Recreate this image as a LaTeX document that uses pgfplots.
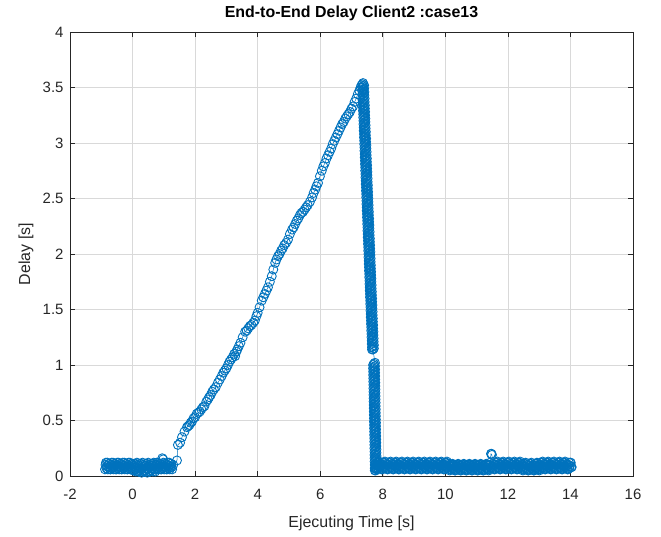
\documentclass[border=0pt]{standalone}
\usepackage{pgfplots}
\pgfplotsset{compat=1.18}
\usepackage{fontspec}
\setmainfont{Liberation Sans}
\definecolor{mblue}{RGB}{0,114,189}
\definecolor{axgray}{RGB}{38,38,38}
\begin{document}
\begin{tikzpicture}
\begin{axis}[name=ax, at={(0,0)}, anchor=south west,
 scale only axis, width=563bp, height=444bp,
 xmin=-2, xmax=16, ymin=0, ymax=4,
 xtick={-2,0,2,4,6,8,10,12,14,16}, ytick={0,0.5,1,1.5,2,2.5,3,3.5,4},
 grid=major, major grid style={color=black!15, line width=0.5pt},
 tick align=inside, axis line style={axgray, line width=0.6pt},
 tick style={axgray, line width=0.6pt}, major tick length=5bp,
 ticklabel style={font=\fontsize{15}{18}\selectfont, text=axgray},
 /pgf/number format/assume math mode=true,
 xticklabel style={yshift=-10bp},
 yticklabel style={xshift=-3bp},
 title={End-to-End Delay Client2 :case13},
 title style={font=\bfseries\fontsize{16}{19}\selectfont, at={(axis description cs:0.5,1)}, anchor=base, yshift=8.7bp},
 xlabel={Ejecuting Time [s]},
 xlabel style={font=\fontsize{16}{19}\selectfont, text=axgray, at={(axis description cs:0.5,0)}, anchor=base, yshift=-51bp},
 ylabel={Delay [s]},
 ylabel style={font=\fontsize{16}{19}\selectfont, text=axgray, at={(axis description cs:-0.07105,0.5)}, anchor=base},
]
\addplot[mblue, line width=0.5pt, mark=o, mark size=4.5bp, mark options={line width=0.9pt, solid}] coordinates {
(-0.88,0.06) (-0.85,0.12) (-0.82,0.09) (-0.79,0.06) (-0.76,0.11) (-0.73,0.08)
(-0.70,0.06) (-0.67,0.12) (-0.64,0.09) (-0.61,0.06) (-0.58,0.11) (-0.55,0.08)
(-0.52,0.06) (-0.49,0.12) (-0.46,0.09) (-0.43,0.06) (-0.40,0.11) (-0.37,0.08)
(-0.34,0.06) (-0.31,0.12) (-0.28,0.09) (-0.25,0.06) (-0.22,0.11) (-0.19,0.08)
(-0.16,0.06) (-0.13,0.12) (-0.10,0.09) (-0.07,0.06) (-0.04,0.11) (-0.01,0.08)
(0.02,0.05) (0.05,0.11) (0.08,0.08) (0.11,0.04) (0.14,0.12) (0.17,0.07)
(0.20,0.04) (0.23,0.11) (0.26,0.07) (0.29,0.03) (0.32,0.12) (0.35,0.08)
(0.38,0.04) (0.41,0.11) (0.44,0.07) (0.47,0.03) (0.50,0.12) (0.53,0.08)
(0.56,0.04) (0.59,0.11) (0.62,0.07) (0.65,0.04) (0.68,0.12) (0.71,0.08)
(0.74,0.06) (0.77,0.12) (0.80,0.09) (0.83,0.06) (0.86,0.11) (0.89,0.08)
(0.92,0.06) (0.95,0.16) (0.98,0.15) (1.01,0.06) (1.04,0.11) (1.07,0.08)
(1.10,0.06) (1.13,0.12) (1.16,0.09) (1.19,0.06) (1.22,0.11) (1.25,0.08)
(1.30,0.10) (1.42,0.14)
(1.45,0.28) (1.52,0.30) (1.58,0.35) (1.66,0.40) (1.74,0.44) (1.78,0.45) (1.82,0.46) (1.86,0.48)
(1.90,0.49) (1.95,0.52) (2.00,0.53) (2.05,0.56) (2.10,0.57) (2.15,0.58) (2.20,0.60) (2.25,0.62)
(2.30,0.63) (2.36,0.67) (2.41,0.69) (2.45,0.71) (2.50,0.73) (2.55,0.76) (2.60,0.78) (2.66,0.80)
(2.73,0.84) (2.79,0.87) (2.85,0.90) (2.90,0.93) (2.95,0.95) (3.00,0.97) (3.05,1.00) (3.10,1.03)
(3.15,1.05) (3.20,1.07) (3.25,1.10) (3.28,1.08) (3.32,1.12) (3.35,1.14) (3.40,1.17) (3.45,1.20)
(3.52,1.25) (3.60,1.30) (3.65,1.31) (3.70,1.33) (3.75,1.35) (3.80,1.36) (3.86,1.38) (3.91,1.40)
(3.96,1.44) (4.00,1.47) (4.06,1.52) (4.13,1.58) (4.18,1.61) (4.23,1.64) (4.28,1.67) (4.33,1.70)
(4.39,1.75) (4.45,1.80) (4.50,1.86) (4.56,1.92) (4.60,1.95) (4.65,1.98) (4.70,2.00) (4.75,2.03)
(4.80,2.05) (4.85,2.08) (4.91,2.10) (4.97,2.13) (5.03,2.18) (5.10,2.22) (5.15,2.24) (5.20,2.27)
(5.25,2.30) (5.30,2.32) (5.35,2.35) (5.40,2.37) (5.45,2.38) (5.50,2.40) (5.55,2.42) (5.60,2.44)
(5.67,2.47) (5.74,2.51) (5.79,2.55) (5.84,2.58) (5.88,2.61) (5.93,2.64) (5.99,2.70) (6.05,2.75)
(6.10,2.79) (6.15,2.82) (6.20,2.86) (6.25,2.89) (6.30,2.92) (6.35,2.95) (6.40,2.99) (6.45,3.02)
(6.50,3.05) (6.55,3.08) (6.60,3.11) (6.65,3.14) (6.70,3.17) (6.75,3.19) (6.80,3.22) (6.85,3.24)
(6.90,3.26) (6.95,3.28) (7.00,3.31) (7.05,3.33) (7.10,3.37) (7.15,3.40) (7.20,3.44) (7.25,3.47)
(7.29,3.50) (7.32,3.52) (7.35,3.53) (7.37,3.54)
(7.403,3.52) (7.343,3.50) (7.373,3.48) (7.411,3.46) (7.351,3.44) (7.381,3.42)
(7.419,3.40) (7.359,3.38) (7.389,3.36) (7.427,3.34) (7.367,3.32) (7.397,3.30)
(7.435,3.28) (7.375,3.26) (7.405,3.24) (7.443,3.22) (7.383,3.20) (7.413,3.18)
(7.451,3.16) (7.391,3.14) (7.421,3.12) (7.459,3.10) (7.399,3.08) (7.429,3.06)
(7.467,3.04) (7.407,3.02) (7.437,3.00) (7.475,2.98) (7.415,2.96) (7.445,2.94)
(7.483,2.92) (7.423,2.90) (7.453,2.88) (7.491,2.86) (7.431,2.84) (7.461,2.82)
(7.499,2.80) (7.439,2.78) (7.469,2.76) (7.507,2.74) (7.447,2.72) (7.477,2.70)
(7.515,2.68) (7.455,2.66) (7.485,2.64) (7.523,2.62) (7.463,2.60) (7.493,2.58)
(7.531,2.56) (7.471,2.54) (7.501,2.52) (7.539,2.50) (7.479,2.48) (7.509,2.46)
(7.547,2.44) (7.487,2.42) (7.517,2.40) (7.555,2.38) (7.495,2.36) (7.525,2.34)
(7.563,2.32) (7.503,2.30) (7.533,2.28) (7.571,2.26) (7.511,2.24) (7.541,2.22)
(7.579,2.20) (7.519,2.18) (7.549,2.16) (7.587,2.14) (7.527,2.12) (7.557,2.10)
(7.595,2.08) (7.535,2.06) (7.565,2.04) (7.603,2.02) (7.543,2.00) (7.573,1.98)
(7.611,1.96) (7.551,1.94) (7.581,1.92) (7.619,1.90) (7.559,1.88) (7.589,1.86)
(7.627,1.84) (7.567,1.82) (7.597,1.80) (7.635,1.78) (7.575,1.76) (7.605,1.74)
(7.643,1.72) (7.583,1.70) (7.613,1.68) (7.651,1.66) (7.591,1.64) (7.621,1.62)
(7.659,1.60) (7.599,1.58) (7.629,1.56) (7.667,1.54) (7.607,1.52) (7.637,1.50)
(7.675,1.48) (7.615,1.46) (7.645,1.44) (7.683,1.42) (7.623,1.40) (7.653,1.38)
(7.691,1.36) (7.631,1.34) (7.661,1.32) (7.699,1.30) (7.639,1.28) (7.669,1.26)
(7.707,1.24) (7.647,1.22) (7.677,1.20) (7.715,1.18) (7.655,1.16) (7.685,1.14)
(7.750,1.02) (7.690,1.00) (7.720,0.98) (7.754,0.96) (7.694,0.94) (7.724,0.92)
(7.757,0.90) (7.697,0.88) (7.727,0.86) (7.761,0.84) (7.701,0.82) (7.731,0.80)
(7.764,0.78) (7.704,0.76) (7.734,0.74) (7.768,0.72) (7.708,0.70) (7.738,0.68)
(7.771,0.66) (7.711,0.64) (7.741,0.62) (7.775,0.60) (7.715,0.58) (7.745,0.56)
(7.778,0.54) (7.718,0.52) (7.748,0.50) (7.782,0.48) (7.722,0.46) (7.752,0.44)
(7.785,0.42) (7.725,0.40) (7.755,0.38) (7.789,0.36) (7.729,0.34) (7.759,0.32)
(7.792,0.30) (7.732,0.28) (7.762,0.26) (7.796,0.24) (7.736,0.22) (7.766,0.20)
(7.799,0.18) (7.739,0.16) (7.769,0.14) (7.803,0.12) (7.743,0.10) (7.773,0.08)
(7.806,0.06) (7.746,0.05) (7.776,0.07)
(7.80,0.06) (7.83,0.12) (7.86,0.09) (7.89,0.13) (7.92,0.07) (7.95,0.10)
(7.98,0.06) (8.01,0.12) (8.04,0.09) (8.07,0.13) (8.10,0.07) (8.13,0.10)
(8.16,0.06) (8.19,0.12) (8.22,0.09) (8.25,0.13) (8.28,0.07) (8.31,0.10)
(8.34,0.06) (8.37,0.12) (8.40,0.09) (8.43,0.13) (8.46,0.07) (8.49,0.10)
(8.52,0.06) (8.55,0.12) (8.58,0.09) (8.61,0.13) (8.64,0.07) (8.67,0.10)
(8.70,0.06) (8.73,0.12) (8.76,0.09) (8.79,0.13) (8.82,0.07) (8.85,0.10)
(8.88,0.06) (8.91,0.12) (8.94,0.09) (8.97,0.13) (9.00,0.07) (9.03,0.10)
(9.06,0.06) (9.09,0.12) (9.12,0.09) (9.15,0.13) (9.18,0.07) (9.21,0.10)
(9.24,0.06) (9.27,0.12) (9.30,0.09) (9.33,0.13) (9.36,0.07) (9.39,0.10)
(9.42,0.06) (9.45,0.12) (9.48,0.09) (9.51,0.13) (9.54,0.07) (9.57,0.10)
(9.60,0.06) (9.63,0.12) (9.66,0.09) (9.69,0.13) (9.72,0.07) (9.75,0.10)
(9.78,0.06) (9.81,0.12) (9.84,0.09) (9.87,0.13) (9.90,0.07) (9.93,0.10)
(9.96,0.06) (9.99,0.12) (10.02,0.09) (10.05,0.13) (10.08,0.07) (10.11,0.10)
(10.14,0.05) (10.17,0.10) (10.20,0.08) (10.23,0.11) (10.26,0.06) (10.29,0.09)
(10.32,0.05) (10.35,0.10) (10.38,0.08) (10.41,0.11) (10.44,0.06) (10.47,0.09)
(10.50,0.05) (10.53,0.10) (10.56,0.08) (10.59,0.11) (10.62,0.06) (10.65,0.09)
(10.68,0.05) (10.71,0.10) (10.74,0.08) (10.77,0.11) (10.80,0.06) (10.83,0.09)
(10.86,0.05) (10.89,0.10) (10.92,0.08) (10.95,0.11) (10.98,0.06) (11.01,0.09)
(11.04,0.05) (11.07,0.10) (11.10,0.08) (11.13,0.11) (11.16,0.06) (11.19,0.09)
(11.22,0.05) (11.25,0.10) (11.28,0.08) (11.31,0.11) (11.34,0.06) (11.37,0.09)
(11.40,0.06) (11.43,0.12) (11.46,0.20) (11.49,0.19) (11.52,0.07) (11.55,0.10)
(11.58,0.06) (11.61,0.12) (11.64,0.09) (11.67,0.13) (11.70,0.07) (11.73,0.10)
(11.76,0.06) (11.79,0.12) (11.82,0.09) (11.85,0.13) (11.88,0.07) (11.91,0.10)
(11.94,0.06) (11.97,0.12) (12.00,0.09) (12.03,0.13) (12.06,0.07) (12.09,0.10)
(12.12,0.06) (12.15,0.12) (12.18,0.09) (12.21,0.13) (12.24,0.07) (12.27,0.10)
(12.30,0.06) (12.33,0.12) (12.36,0.09) (12.39,0.13) (12.42,0.07) (12.45,0.10)
(12.48,0.05) (12.51,0.11) (12.54,0.08) (12.57,0.12) (12.60,0.06) (12.63,0.09)
(12.66,0.05) (12.69,0.11) (12.72,0.08) (12.75,0.12) (12.78,0.06) (12.81,0.09)
(12.84,0.05) (12.87,0.11) (12.90,0.08) (12.93,0.12) (12.96,0.06) (12.99,0.09)
(13.02,0.06) (13.05,0.12) (13.08,0.09) (13.11,0.13) (13.14,0.07) (13.17,0.10)
(13.20,0.06) (13.23,0.12) (13.26,0.09) (13.29,0.13) (13.32,0.07) (13.35,0.10)
(13.38,0.06) (13.41,0.12) (13.44,0.09) (13.47,0.13) (13.50,0.07) (13.53,0.10)
(13.56,0.06) (13.59,0.12) (13.62,0.09) (13.65,0.13) (13.68,0.07) (13.71,0.10)
(13.74,0.06) (13.77,0.12) (13.80,0.09) (13.83,0.13) (13.86,0.07) (13.89,0.10)
(13.92,0.06) (13.95,0.12) (13.98,0.09) (14.01,0.12) (14.04,0.08)
};
\addplot[mblue, only marks, mark=o, mark size=4.5bp, mark options={line width=0.9pt, solid}] coordinates {
(-0.865,0.10) (-0.835,0.07) (-0.805,0.12) (-0.775,0.08) (-0.745,0.11) (-0.715,0.06)
(-0.685,0.10) (-0.655,0.07) (-0.625,0.12) (-0.595,0.08) (-0.565,0.11) (-0.535,0.06)
(-0.505,0.10) (-0.475,0.07) (-0.445,0.12) (-0.415,0.08) (-0.385,0.11) (-0.355,0.06)
(-0.325,0.10) (-0.295,0.07) (-0.265,0.12) (-0.235,0.08) (-0.205,0.11) (-0.175,0.06)
(-0.145,0.10) (-0.115,0.07) (-0.085,0.12) (-0.055,0.08) (-0.025,0.11) (0.005,0.06)
(0.035,0.09) (0.065,0.05) (0.095,0.11) (0.125,0.06) (0.155,0.10) (0.185,0.04)
(0.215,0.09) (0.245,0.05) (0.275,0.11) (0.305,0.06) (0.335,0.10) (0.365,0.04)
(0.395,0.09) (0.425,0.05) (0.455,0.11) (0.485,0.06) (0.515,0.10) (0.545,0.04)
(0.575,0.09) (0.605,0.05) (0.635,0.11) (0.665,0.06) (0.695,0.10) (0.725,0.04)
(0.755,0.10) (0.785,0.07) (0.815,0.12) (0.845,0.08) (0.875,0.11) (0.905,0.06)
(0.935,0.10) (0.965,0.07) (0.995,0.12) (1.025,0.08) (1.055,0.11) (1.085,0.06)
(1.115,0.10) (1.145,0.07) (1.175,0.12) (1.205,0.08) (1.235,0.11) (1.265,0.06)
(7.373,3.51) (7.403,3.49) (7.343,3.47) (7.381,3.45) (7.411,3.43) (7.351,3.41)
(7.389,3.39) (7.419,3.37) (7.359,3.35) (7.397,3.33) (7.427,3.31) (7.367,3.29)
(7.405,3.27) (7.435,3.25) (7.375,3.23) (7.413,3.21) (7.443,3.19) (7.383,3.17)
(7.421,3.15) (7.451,3.13) (7.391,3.11) (7.429,3.09) (7.459,3.07) (7.399,3.05)
(7.437,3.03) (7.467,3.01) (7.407,2.99) (7.445,2.97) (7.475,2.95) (7.415,2.93)
(7.453,2.91) (7.483,2.89) (7.423,2.87) (7.461,2.85) (7.491,2.83) (7.431,2.81)
(7.469,2.79) (7.499,2.77) (7.439,2.75) (7.477,2.73) (7.507,2.71) (7.447,2.69)
(7.485,2.67) (7.515,2.65) (7.455,2.63) (7.493,2.61) (7.523,2.59) (7.463,2.57)
(7.501,2.55) (7.531,2.53) (7.471,2.51) (7.509,2.49) (7.539,2.47) (7.479,2.45)
(7.517,2.43) (7.547,2.41) (7.487,2.39) (7.525,2.37) (7.555,2.35) (7.495,2.33)
(7.533,2.31) (7.563,2.29) (7.503,2.27) (7.541,2.25) (7.571,2.23) (7.511,2.21)
(7.549,2.19) (7.579,2.17) (7.519,2.15) (7.557,2.13) (7.587,2.11) (7.527,2.09)
(7.565,2.07) (7.595,2.05) (7.535,2.03) (7.573,2.01) (7.603,1.99) (7.543,1.97)
(7.581,1.95) (7.611,1.93) (7.551,1.91) (7.589,1.89) (7.619,1.87) (7.559,1.85)
(7.597,1.83) (7.627,1.81) (7.567,1.79) (7.605,1.77) (7.635,1.75) (7.575,1.73)
(7.613,1.71) (7.643,1.69) (7.583,1.67) (7.621,1.65) (7.651,1.63) (7.591,1.61)
(7.629,1.59) (7.659,1.57) (7.599,1.55) (7.637,1.53) (7.667,1.51) (7.607,1.49)
(7.645,1.47) (7.675,1.45) (7.615,1.43) (7.653,1.41) (7.683,1.39) (7.623,1.37)
(7.661,1.35) (7.691,1.33) (7.631,1.31) (7.669,1.29) (7.699,1.27) (7.639,1.25)
(7.677,1.23) (7.707,1.21) (7.647,1.19) (7.685,1.17) (7.715,1.15) (7.655,1.14)
(7.720,1.01) (7.750,0.99) (7.690,0.97) (7.724,0.95) (7.754,0.93) (7.694,0.91)
(7.727,0.89) (7.757,0.87) (7.697,0.85) (7.731,0.83) (7.761,0.81) (7.701,0.79)
(7.734,0.77) (7.764,0.75) (7.704,0.73) (7.738,0.71) (7.768,0.69) (7.708,0.67)
(7.741,0.65) (7.771,0.63) (7.711,0.61) (7.745,0.59) (7.775,0.57) (7.715,0.55)
(7.748,0.53) (7.778,0.51) (7.718,0.49) (7.752,0.47) (7.782,0.45) (7.722,0.43)
(7.755,0.41) (7.785,0.39) (7.725,0.37) (7.759,0.35) (7.789,0.33) (7.729,0.31)
(7.762,0.29) (7.792,0.27) (7.732,0.25) (7.766,0.23) (7.796,0.21) (7.736,0.19)
(7.769,0.17) (7.799,0.15) (7.739,0.13) (7.773,0.11) (7.803,0.09) (7.743,0.07)
(7.776,0.05)
(7.815,0.10) (7.845,0.07) (7.875,0.12) (7.905,0.08) (7.935,0.11) (7.965,0.06)
(7.995,0.10) (8.025,0.07) (8.055,0.12) (8.085,0.08) (8.115,0.11) (8.145,0.06)
(8.175,0.10) (8.205,0.07) (8.235,0.12) (8.265,0.08) (8.295,0.11) (8.325,0.06)
(8.355,0.10) (8.385,0.07) (8.415,0.12) (8.445,0.08) (8.475,0.11) (8.505,0.06)
(8.535,0.10) (8.565,0.07) (8.595,0.12) (8.625,0.08) (8.655,0.11) (8.685,0.06)
(8.715,0.10) (8.745,0.07) (8.775,0.12) (8.805,0.08) (8.835,0.11) (8.865,0.06)
(8.895,0.10) (8.925,0.07) (8.955,0.12) (8.985,0.08) (9.015,0.11) (9.045,0.06)
(9.075,0.10) (9.105,0.07) (9.135,0.12) (9.165,0.08) (9.195,0.11) (9.225,0.06)
(9.255,0.10) (9.285,0.07) (9.315,0.12) (9.345,0.08) (9.375,0.11) (9.405,0.06)
(9.435,0.10) (9.465,0.07) (9.495,0.12) (9.525,0.08) (9.555,0.11) (9.585,0.06)
(9.615,0.10) (9.645,0.07) (9.675,0.12) (9.705,0.08) (9.735,0.11) (9.765,0.06)
(9.795,0.10) (9.825,0.07) (9.855,0.12) (9.885,0.08) (9.915,0.11) (9.945,0.06)
(9.975,0.10) (10.005,0.07) (10.035,0.12) (10.065,0.08) (10.095,0.11) (10.125,0.06)
(10.155,0.09) (10.185,0.06) (10.215,0.10) (10.245,0.07) (10.275,0.10) (10.305,0.05)
(10.335,0.09) (10.365,0.06) (10.395,0.10) (10.425,0.07) (10.455,0.10) (10.485,0.05)
(10.515,0.09) (10.545,0.06) (10.575,0.10) (10.605,0.07) (10.635,0.10) (10.665,0.05)
(10.695,0.09) (10.725,0.06) (10.755,0.10) (10.785,0.07) (10.815,0.10) (10.845,0.05)
(10.875,0.09) (10.905,0.06) (10.935,0.10) (10.965,0.07) (10.995,0.10) (11.025,0.05)
(11.055,0.09) (11.085,0.06) (11.115,0.10) (11.145,0.07) (11.175,0.10) (11.205,0.05)
(11.235,0.09) (11.265,0.06) (11.295,0.10) (11.325,0.07) (11.355,0.10) (11.385,0.05)
(11.415,0.10) (11.445,0.07) (11.475,0.20) (11.505,0.08) (11.535,0.11) (11.565,0.06)
(11.595,0.10) (11.625,0.07) (11.655,0.12) (11.685,0.08) (11.715,0.11) (11.745,0.06)
(11.775,0.10) (11.805,0.07) (11.835,0.12) (11.865,0.08) (11.895,0.11) (11.925,0.06)
(11.955,0.10) (11.985,0.07) (12.015,0.12) (12.045,0.08) (12.075,0.11) (12.105,0.06)
(12.135,0.10) (12.165,0.07) (12.195,0.12) (12.225,0.08) (12.255,0.11) (12.285,0.06)
(12.315,0.10) (12.345,0.07) (12.375,0.12) (12.405,0.08) (12.435,0.11) (12.465,0.06)
(12.495,0.09) (12.525,0.06) (12.555,0.11) (12.585,0.07) (12.615,0.10) (12.645,0.05)
(12.675,0.09) (12.705,0.06) (12.735,0.11) (12.765,0.07) (12.795,0.10) (12.825,0.05)
(12.855,0.09) (12.885,0.06) (12.915,0.11) (12.945,0.07) (12.975,0.10) (13.005,0.05)
(13.035,0.10) (13.065,0.07) (13.095,0.12) (13.125,0.08) (13.155,0.11) (13.185,0.06)
(13.215,0.10) (13.245,0.07) (13.275,0.12) (13.305,0.08) (13.335,0.11) (13.365,0.06)
(13.395,0.10) (13.425,0.07) (13.455,0.12) (13.485,0.08) (13.515,0.11) (13.545,0.06)
(13.575,0.10) (13.605,0.07) (13.635,0.12) (13.665,0.08) (13.695,0.11) (13.725,0.06)
(13.755,0.10) (13.785,0.07) (13.815,0.12) (13.845,0.08) (13.875,0.11) (13.905,0.06)
(13.935,0.10) (13.965,0.07) (13.995,0.12) (14.025,0.08)
};
\end{axis}
\pgfresetboundingbox
\path[use as bounding box] ([shift={(-70bp,-61bp)}]ax.south west) rectangle ([shift={(28bp,32bp)}]ax.north east);
\end{tikzpicture}
\end{document}
